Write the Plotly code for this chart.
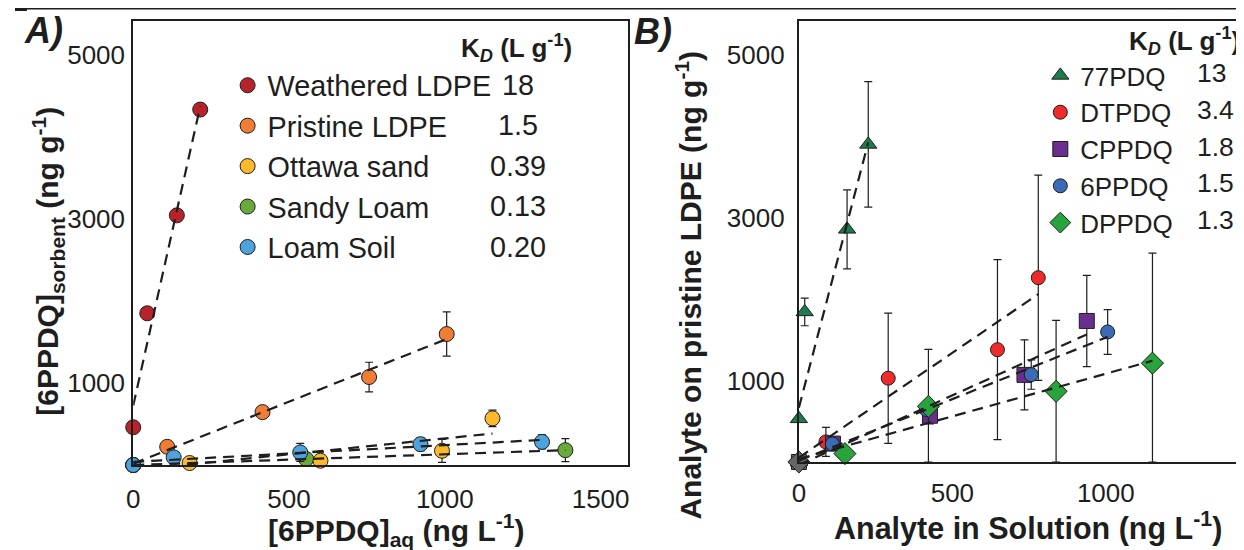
import numpy as np
import plotly.graph_objects as go

# The page body has an 8px margin, so the figure is drawn at (8, 8); size it to fit the view.
VW, VH = 1244, 550
OX, OY = 8, 8
W, H = VW - OX, VH - OY
FONT = "Liberation Sans, Arial, Helvetica, sans-serif"
INK = "#1e1e1e"
GRAY = "#666666"

# ---------------- Panel A data ----------------
a_names = ["Weathered LDPE", "Pristine LDPE", "Ottawa sand", "Sandy Loam", "Loam Soil"]
a_kd = ["18", "1.5", "0.39", "0.13", "0.20"]
a_colors = ["#b8222a", "#ef7d35", "#fdb92a", "#6aaa3a", "#4fa3dd"]

weathered_x = [0, 45, 140, 215]
weathered_y = [460, 1850, 3045, 4335]
weathered_err = [0, 0, 0, 0]

pristine_x = [0, 109, 415, 757, 1006]
pristine_y = [0, 222, 645, 1073, 1597]
pristine_err = [0, 30, 70, 180, 270]

ottawa_x = [0, 181, 601, 991, 1153]
ottawa_y = [0, 24, 52, 173, 569]
ottawa_err = [0, 20, 20, 140, 100]

sandy_x = [0, 555, 1387]
sandy_y = [0, 73, 181]
sandy_err = [0, 40, 140]

loam_x = [0, 130, 536, 922, 1312]
loam_y = [0, 93, 153, 254, 282]
loam_err = [0, 30, 110, 80, 85]

a_ticks_x = [0, 500, 1000, 1500]
a_ticks_y = [1000, 3000, 5000]

# ---------------- Panel B data ----------------
b_names = ["77PDQ", "DTPDQ", "CPPDQ", "6PPDQ", "DPPDQ"]
b_kd = ["13", "3.4", "1.8", "1.5", "1.3"]
b_colors = ["#1f7a4d", "#ee2b2b", "#6a2f8e", "#3c6bb5", "#29a33b"]
b_symbols = ["triangle-up", "circle", "square", "circle", "diamond"]
b_sizes = [15, 14, 15, 14, 17]

pdq77_x = [0, 0, 19, 157, 226]
pdq77_y = [0, 530, 1843, 2857, 3900]
pdq77_err = [0, 0, 170, 485, 770]

dtpdq_x = [0, 88, 291, 647, 780]
dtpdq_y = [0, 247, 1029, 1379, 2263]
dtpdq_err = [0, 177, 800, 1105, 1260]

cppdq_x = [0, 111, 427, 735, 938]
cppdq_y = [0, 226, 568, 1070, 1732]
cppdq_err = [0, 50, 100, 430, 560]

ppdq6_x = [0, 109, 415, 757, 1006]
ppdq6_y = [0, 222, 645, 1073, 1597]
ppdq6_err = [0, 30, 70, 180, 275]

dppdq_x = [0, 150, 422, 838, 1152]
dppdq_y = [0, 103, 683, 868, 1214]
dppdq_err = [0, 0, 700, 870, 1350]

b_ticks_x = [0, 500, 1000, 1500]
b_ticks_y = [1000, 3000, 5000]

a_series = [(weathered_x, weathered_y, weathered_err),
            (pristine_x, pristine_y, pristine_err),
            (ottawa_x, ottawa_y, ottawa_err),
            (sandy_x, sandy_y, sandy_err),
            (loam_x, loam_y, loam_err)]
b_series = [(pdq77_x, pdq77_y, pdq77_err),
            (dtpdq_x, dtpdq_y, dtpdq_err),
            (cppdq_x, cppdq_y, cppdq_err),
            (ppdq6_x, ppdq6_y, ppdq6_err),
            (dppdq_x, dppdq_y, dppdq_err)]


def px(x):
    """screen x (page pixels) -> paper fraction"""
    return (x - OX) / W


def py(y):
    """screen y (page pixels) -> paper fraction"""
    return 1 - (y - OY) / H


def errbar(y, e):
    y = np.asarray(y, float)
    e = np.asarray(e, float)
    return dict(type="data", symmetric=False, array=e, arrayminus=np.minimum(e, y),
                thickness=1.2, width=4, color=INK)


fig = go.Figure()
DASH = "11px,7px"
LW = 2.2

# Panel A markers
order_a = [0, 1, 3, 2, 4]
for i in order_a:
    x, y, e = a_series[i]
    fig.add_trace(go.Scatter(
        x=x, y=y, mode="markers", name=a_names[i], legend="legend", legendrank=i,
        marker=dict(symbol="circle", size=15, color=a_colors[i], line=dict(color=INK, width=1)),
        error_y=errbar(y, e), cliponaxis=False, xaxis="x", yaxis="y"))
# Panel A fit lines
for i in range(len(a_series)):
    x, y, e = a_series[i]
    k, b = np.polyfit(x, y, 1)
    xs = np.array([0, max(x)], float)
    fig.add_trace(go.Scatter(
        x=xs, y=k * xs + b, mode="lines", showlegend=False, hoverinfo="skip",
        line=dict(color=INK, width=LW, dash=DASH), xaxis="x", yaxis="y"))

# Panel B markers
for i in range(len(b_series)):
    x, y, e = b_series[i]
    x = np.asarray(x, float)
    y = np.asarray(y, float)
    e = np.asarray(e, float)
    origin = (x == 0) & (y == 0)
    keep = ~origin
    fig.add_trace(go.Scatter(
        x=x[keep], y=y[keep], mode="markers", name=b_names[i], legend="legend2", legendrank=i,
        marker=dict(symbol=b_symbols[i], size=b_sizes[i], color=b_colors[i],
                    line=dict(color=INK, width=1)),
        error_y=errbar(y[keep], e[keep]), cliponaxis=False, xaxis="x2", yaxis="y2"))
# gray origin markers
for i in range(len(b_series)):
    x, y, e = b_series[i]
    x = np.asarray(x, float)
    y = np.asarray(y, float)
    origin = (x == 0) & (y == 0)
    fig.add_trace(go.Scatter(
        x=x[origin], y=y[origin], mode="markers", showlegend=False, hoverinfo="skip",
        marker=dict(symbol=b_symbols[i], size=b_sizes[i], color=GRAY,
                    line=dict(color=INK, width=1)),
        cliponaxis=False, xaxis="x2", yaxis="y2"))
# Panel B fit lines
for i in range(len(b_series)):
    x, y, e = b_series[i]
    k, b = np.polyfit(x, y, 1)
    xs = np.array([0, max(x)], float)
    fig.add_trace(go.Scatter(
        x=xs, y=k * xs + b, mode="lines", showlegend=False, hoverinfo="skip",
        line=dict(color=INK, width=LW, dash=DASH), xaxis="x2", yaxis="y2"))

tickfont = dict(family=FONT, size=26, color=INK)
axis_common = dict(showgrid=False, zeroline=False, showline=True, linecolor=INK, linewidth=2,
                   ticks="", tickfont=tickfont, fixedrange=True)

fig.update_layout(
    width=W, height=H,
    margin=dict(l=0, r=0, t=0, b=0),
    paper_bgcolor="white", plot_bgcolor="white",
    font=dict(family=FONT, color=INK),
    xaxis=dict(domain=[px(127), px(625)], range=[0, 1588], tickvals=a_ticks_x, mirror=True,
               anchor="y", ticklabelstandoff=10, **axis_common),
    yaxis=dict(domain=[py(465), py(21)], range=[0, 5415], tickvals=a_ticks_y, mirror=True,
               anchor="x", ticklabelstandoff=1, **axis_common),
    xaxis2=dict(domain=[px(797), 1.0], range=[0, 1447], tickvals=b_ticks_x, mirror=True,
                anchor="y2", ticklabelstandoff=7, **axis_common),
    yaxis2=dict(domain=[py(462), py(21)], range=[0, 5415], tickvals=b_ticks_y, mirror=False,
                anchor="x2", ticklabelstandoff=7, **axis_common),
    legend=dict(x=px(222), y=py(60), xanchor="left", yanchor="top", bgcolor="rgba(0,0,0,0)",
                font=dict(family=FONT, size=28.8, color=INK), itemclick=False),
    legend2=dict(x=px(1040), y=py(52), xanchor="left", yanchor="top", bgcolor="rgba(0,0,0,0)",
                 font=dict(family=FONT, size=26, color=INK), itemclick=False),
    showlegend=True,
)

ann = []
# panel letters
ann.append(dict(text="<b><i>A)</i></b>", x=px(37), y=py(31), font=dict(size=36)))
ann.append(dict(text="<b><i>B)</i></b>", x=px(650), y=py(32), font=dict(size=36)))
# axis titles
ann.append(dict(text="<b>[6PPDQ]<sub>aq</sub> (ng L<sup>-1</sup>)</b>", x=px(392), y=py(530),
                font=dict(size=30)))
ann.append(dict(text="<b>[6PPDQ]<sub>sorbent</sub> (ng g<sup>-1</sup>)</b>", x=px(41), y=py(261),
                textangle=-90, font=dict(size=30)))
ann.append(dict(text="<b>Analyte on pristine LDPE (ng g<sup>-1</sup>)</b>", x=px(686), y=py(285),
                textangle=-90, font=dict(size=30)))
ann.append(dict(text="<b>Analyte in Solution (ng L<sup>-1</sup>)</b>", x=px(1028), y=py(526),
                font=dict(size=30.5)))
# KD headers
ann.append(dict(text="<b>K<sub><i>D</i></sub> (L g<sup>-1</sup>)</b>", x=px(513), y=py(48),
                font=dict(size=26)))
ann.append(dict(text="<b>K<sub><i>D</i></sub> (L g<sup>-1</sup>)</b>", x=px(1185), y=py(41),
                font=dict(size=26)))
# KD values
ROW0_A, PITCH_A = 85, 40.4
for i, v in enumerate(a_kd):
    ann.append(dict(text=v, x=px(514), y=py(ROW0_A + PITCH_A * i), font=dict(size=28.8)))
ROW0_B, PITCH_B = 73, 36.8
for i, v in enumerate(b_kd):
    ann.append(dict(text=v, x=px(1196), y=py(ROW0_B + PITCH_B * i), xanchor="left",
                    font=dict(size=26.5)))

for a in ann:
    a.setdefault("xanchor", "center")
    a.setdefault("yanchor", "middle")
    f = a["font"]
    f.setdefault("family", FONT)
    f.setdefault("color", INK)
    fig.add_annotation(xref="paper", yref="paper", showarrow=False, **a)

# top rule
fig.add_shape(type="line", xref="paper", yref="paper", x0=0, x1=1.0, y0=py(8.8), y1=py(8.8),
              line=dict(color=INK, width=1.5))
fig.add_shape(type="line", xref="paper", yref="paper", x0=0, x1=px(20), y0=py(9.5), y1=py(9.5),
              line=dict(color=INK, width=3))

fig.write_html("out.html")
